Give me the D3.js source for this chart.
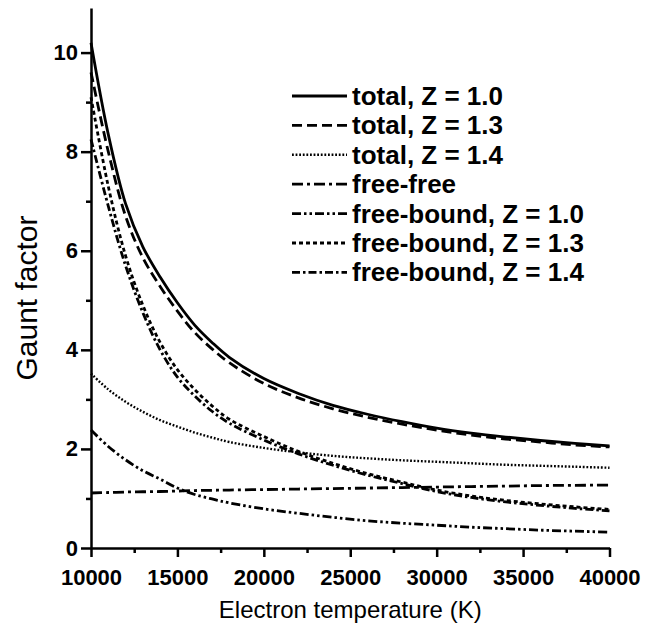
<!DOCTYPE html>
<html>
<head>
<meta charset="utf-8">
<script src="https://d3js.org/d3.v7.min.js"></script>
<style>
  body { margin: 0; background: #fff; }
  text { font-family: "Liberation Sans", Arial, sans-serif; fill: #000; }
</style>
</head>
<body>
<div id="my_dataviz"></div>
<script>
// temperatures (K) where values were read
var temps = [10000, 11000, 12000, 13000, 14000, 15000, 16000, 17000, 18000, 20000,
             22000, 24000, 26000, 28000, 30000, 32000, 34000, 36000, 38000, 40000];

var totalZ10 = [10.2, 8.35, 6.95, 6.08, 5.47, 4.95, 4.5, 4.15, 3.85, 3.42,
                3.12, 2.88, 2.7, 2.55, 2.42, 2.32, 2.24, 2.17, 2.11, 2.06];
var totalZ13 = [9.6, 8.0, 6.7, 5.86, 5.28, 4.78, 4.35, 4.02, 3.74, 3.32,
                3.03, 2.81, 2.64, 2.5, 2.38, 2.28, 2.2, 2.14, 2.08, 2.04];
var totalZ14 = [3.52, 3.2, 2.95, 2.75, 2.58, 2.45, 2.33, 2.23, 2.14, 2.02,
                1.93, 1.86, 1.81, 1.77, 1.74, 1.71, 1.68, 1.66, 1.64, 1.62];
var freeFree = [1.11, 1.12, 1.13, 1.135, 1.14, 1.15, 1.16, 1.165, 1.17, 1.18,
                1.19, 1.2, 1.21, 1.22, 1.23, 1.24, 1.25, 1.26, 1.265, 1.27];
var fbZ10 = [2.38, 2.05, 1.78, 1.56, 1.39, 1.21, 1.08, 0.99, 0.91, 0.79,
             0.7, 0.62, 0.55, 0.5, 0.46, 0.42, 0.39, 0.36, 0.34, 0.32];
var fbZ13 = [9.1, 7.3, 5.9, 4.9, 4.15, 3.6, 3.2, 2.87, 2.6, 2.25,
             1.95, 1.71, 1.5, 1.33, 1.17, 1.05, 0.96, 0.89, 0.83, 0.78];
var fbZ14 = [8.25, 6.9, 5.7, 4.75, 4.0, 3.45, 3.07, 2.76, 2.52, 2.18,
             1.9, 1.67, 1.47, 1.3, 1.14, 1.02, 0.93, 0.86, 0.8, 0.75];

var labels = ["total, Z = 1.0", "total, Z = 1.3", "total, Z = 1.4", "free-free",
              "free-bound, Z = 1.0", "free-bound, Z = 1.3", "free-bound, Z = 1.4"];
var xTicks = [10000, 15000, 20000, 25000, 30000, 35000, 40000];
var yTicks = [0, 2, 4, 6, 8, 10];

var series = [totalZ10, totalZ13, totalZ14, freeFree, fbZ10, fbZ13, fbZ14];
var dashes = ["none", "10,5", "1.8,1.8", "11,4,3,4", "9,3,2.5,3,2.5,3", "4,3", "8,3,2.5,3"];
var widths = [2.8, 2.8, 2.4, 2.8, 2.8, 2.8, 2.8];

// set the dimensions and margins of the graph
var margin = {top: 8, right: 50, bottom: 85, left: 91},
    width = 660 - margin.left - margin.right - 0.5,
    height = 633 - margin.top - margin.bottom;

var svg = d3.select("#my_dataviz")
  .append("svg")
    .attr("width", 660)
    .attr("height", 633)
  .append("g")
    .attr("transform", "translate(" + margin.left + "," + margin.top + ")");

var x = d3.scaleLinear().domain([10000, 40000]).range([0, width]);
var y = d3.scaleLinear().domain([0, 10.9]).range([height, 0]);

// minor ticks first
svg.append("g")
  .attr("transform", "translate(0," + height + ")")
  .call(d3.axisBottom(x).tickValues(d3.range(12500, 40000, 5000)).tickSize(5).tickFormat(""))
  .call(g => g.select(".domain").remove())
  .selectAll("line").attr("stroke-width", 2.5);

svg.append("g")
  .call(d3.axisLeft(y).tickValues([1, 3, 5, 7, 9]).tickSize(5).tickFormat(""))
  .call(g => g.select(".domain").remove())
  .selectAll("line").attr("stroke-width", 2.5);

// X axis
var xAxis = svg.append("g")
  .attr("transform", "translate(0," + height + ")")
  .call(d3.axisBottom(x).tickValues(xTicks).tickSize(9).tickSizeOuter(0).tickPadding(12).tickFormat(d3.format("d")));
xAxis.select(".domain").attr("stroke-width", 2.5);
xAxis.selectAll("line").attr("stroke-width", 2.5);
xAxis.selectAll("text").style("font-size", "22px").style("font-weight", "bold");

// Y axis
var yAxis = svg.append("g")
  .call(d3.axisLeft(y).tickValues(yTicks).tickSize(10).tickSizeOuter(0).tickPadding(3));
yAxis.select(".domain").attr("stroke-width", 2.5);
yAxis.selectAll("line").attr("stroke-width", 2.5);
yAxis.selectAll("text").style("font-size", "22px").style("font-weight", "bold");

// text label for the x axis
svg.append("text")
  .attr("x", width / 2)
  .attr("y", height + 70)
  .style("text-anchor", "middle")
  .style("font-size", "24px")
  .text("Electron temperature (K)");

// text label for the y axis
svg.append("text")
  .attr("transform", "rotate(-90)")
  .attr("x", -290)
  .attr("y", -54)
  .style("text-anchor", "middle")
  .style("font-size", "30px")
  .text("Gaunt factor");

var line = d3.line()
  .x(function(d, i) { return x(temps[i]); })
  .y(function(d) { return y(d); })
  .curve(d3.curveCatmullRom.alpha(0.5));

series.forEach(function(s, i) {
  svg.append("path")
    .datum(s)
    .attr("fill", "none")
    .attr("stroke", "#000")
    .attr("stroke-width", widths[i])
    .attr("stroke-dasharray", dashes[i])
    .attr("d", line);
});

// legend
var legend = svg.append("g").attr("transform", "translate(201,88)");
labels.forEach(function(l, i) {
  var row = legend.append("g").attr("transform", "translate(0," + (i * 29.4) + ")");
  row.append("line")
    .attr("x1", 0).attr("x2", 55)
    .attr("y1", 0).attr("y2", 0)
    .attr("stroke", "#000")
    .attr("stroke-width", widths[i])
    .attr("stroke-dasharray", dashes[i]);
  row.append("text")
    .attr("x", 60)
    .attr("y", 9)
    .style("font-size", "26px")
    .style("font-weight", "bold")
    .text(l);
});
</script>
</body>
</html>
